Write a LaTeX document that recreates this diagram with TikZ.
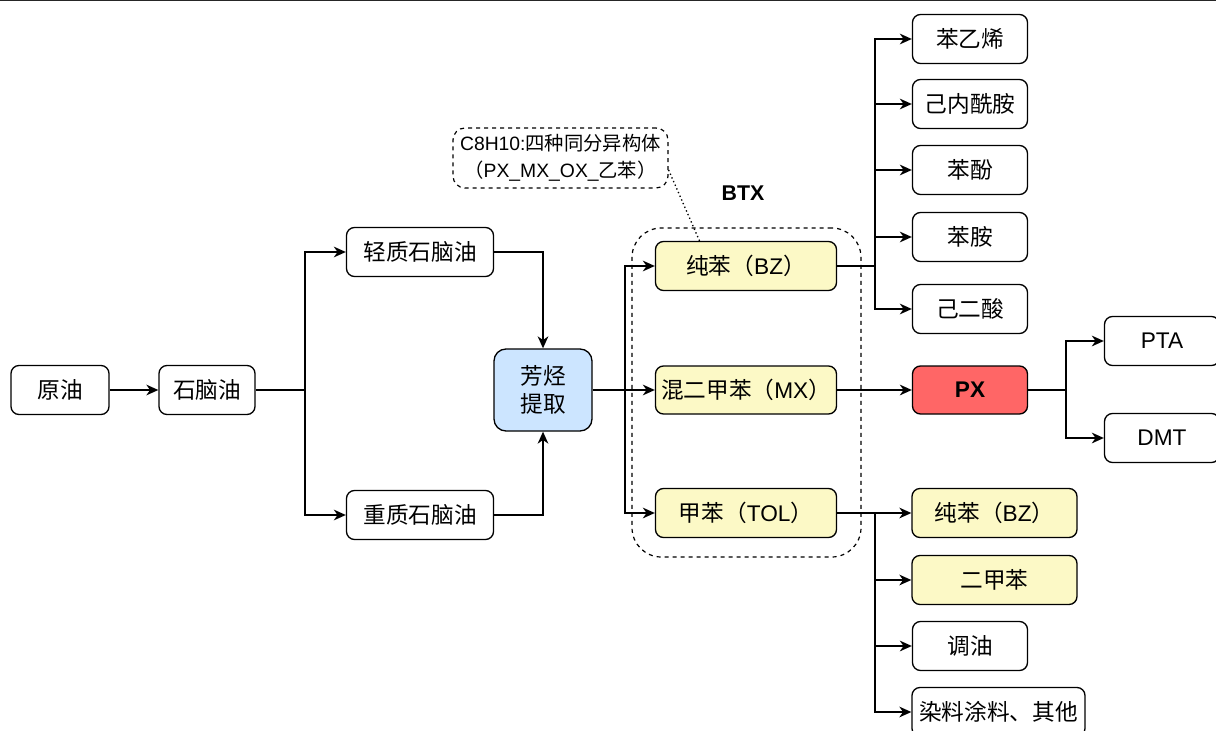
\documentclass[tikz,border=0pt]{standalone}
\usepackage{fontspec}
\setmainfont{Liberation Sans}
\newfontfamily\cjk{Noto Sans CJK SC}
\usetikzlibrary{arrows.meta}
\definecolor{ylw}{HTML}{FCF9C6}
\definecolor{blu}{HTML}{CCE5FF}
\definecolor{rd}{HTML}{FF6666}
\tikzset{
  box/.style={draw, line width=1pt, rounded corners=6pt, inner sep=0pt, align=center,
    font=\fontsize{17}{21}\selectfont, minimum height={49*0.75pt}},
  w98/.style={minimum width={98*0.75pt}},
  w115/.style={minimum width={115*0.75pt}},
  w147/.style={minimum width={147*0.75pt}},
  w165/.style={minimum width={165*0.75pt}},
  w181/.style={minimum width={181*0.75pt}},
  yl/.style={fill=ylw},
  arr/.style={line width=1.2pt, -{Stealth[length=9pt,width=8pt,inset=2.8pt]}},
  ln/.style={line width=1.2pt},
}
\newcommand{\zh}[1]{{\cjk #1}}
\begin{document}
\begin{tikzpicture}[x=0.75pt,y=-0.75pt]
\useasboundingbox (0,0) rectangle (1216,731);
\draw[line width=2pt, black!85] (0,0) -- (1216,0);

% left part
\node[box,w98] (crude) at (60,390) {\zh{原油}};
\node[box,minimum width={96*0.75pt}] (nap) at (207,390) {\zh{石脑油}};
\node[box,w147] (light) at (420,252) {\zh{轻质石脑油}};
\node[box,w147] (heavy) at (420,515) {\zh{重质石脑油}};
\node[box,w98,fill=blu,minimum height={82*0.75pt},rounded corners=9pt,
  font=\fontsize{17}{21}\selectfont] (arom) at (543,390) {\zh{芳烃}\\\zh{提取}};

% BTX group
\node[draw, dashed, line width=0.9pt, rounded corners=22pt, minimum width={229*0.75pt},
  minimum height={329*0.75pt}, inner sep=0pt] (grp) at (746.5,392.5) {};
\node[font=\bfseries\fontsize{16}{20}\selectfont] (btx) at (743,193) {BTX};
\node[box,w181,yl] (bz) at (746,266) {\zh{纯苯（}BZ\zh{）}};
\node[box,w181,yl,minimum height={48*0.75pt}] (mx) at (746,390) {\zh{混二甲苯（}MX\zh{）}};
\node[box,w181,yl] (tol) at (746,513) {\zh{甲苯（}TOL\zh{）}};

% note
\node[draw, dashed, line width=0.9pt, rounded corners=9pt, minimum width={215*0.75pt},
  minimum height={60*0.75pt}, inner sep=0pt, align=center,
  font=\fontsize{14.5}{20}\selectfont] (note) at (560.5,158)
  {C8H10:\zh{四种同分异构体}\\\zh{（}PX\_MX\_OX\_\zh{乙苯）}};
\coordinate (nt) at (700,242);
\draw[dotted, line width=1pt] (note.east |- 0,170) -- (nt);

% right top
\node[box,w115] (sty) at (970,39) {\zh{苯乙烯}};
\node[box,w115] (cap) at (970,104) {\zh{己内酰胺}};
\node[box,w115] (phe) at (970,170) {\zh{苯酚}};
\node[box,w115] (ani) at (970,237) {\zh{苯胺}};
\node[box,w115] (adi) at (970,309) {\zh{己二酸}};

% PX
\node[box,w115,fill=rd,minimum height={48*0.75pt},font=\bfseries\fontsize{17}{21}\selectfont] (px) at (970,390) {PX};
\node[box,w115] (pta) at (1162,341) {PTA};
\node[box,w115] (dmt) at (1162,438) {DMT};

% right bottom
\node[box,w165,yl] (bz2) at (994.5,513) {\zh{纯苯（}BZ\zh{）}};
\node[box,w165,yl] (xyl) at (994.5,580) {\zh{二甲苯}};
\node[box,w115] (oil) at (970,646) {\zh{调油}};
\node[box,minimum width={173*0.75pt}] (dye) at (998.5,712) {\zh{染料涂料、其他}};

% junctions
\coordinate (j1) at (305,390);
\coordinate (j2) at (625,390);
\coordinate (j3) at (875,266);
\coordinate (j4) at (1066,390);
\coordinate (j5) at (875,513);

% connectors
\draw[arr] (crude) -- (nap);
\draw[ln] (nap.east) -- (j1);
\draw[arr] (j1) |- (light.west);
\draw[arr] (j1) |- (heavy.west);
\draw[arr] (light.east) -| (arom.north);
\draw[arr] (heavy.east) -| (arom.south);
\draw[arr] (arom.east) -- (mx.west);
\draw[arr] (j2) |- (bz.west);
\draw[arr] (j2) |- (tol.west);

\draw[ln] (bz.east) -- (j3);
\foreach \n in {sty,cap,phe,ani,adi} \draw[arr] (j3) |- (\n.west);

\draw[arr] (mx.east) -- (px.west);
\draw[ln] (px.east) -- (j4);
\draw[arr] (j4) |- (pta.west);
\draw[arr] (j4) |- (dmt.west);

\draw[arr] (tol.east) -- (bz2.west);
\foreach \n in {xyl,oil,dye} \draw[arr] (j5) |- (\n.west);
\end{tikzpicture}
\end{document}
